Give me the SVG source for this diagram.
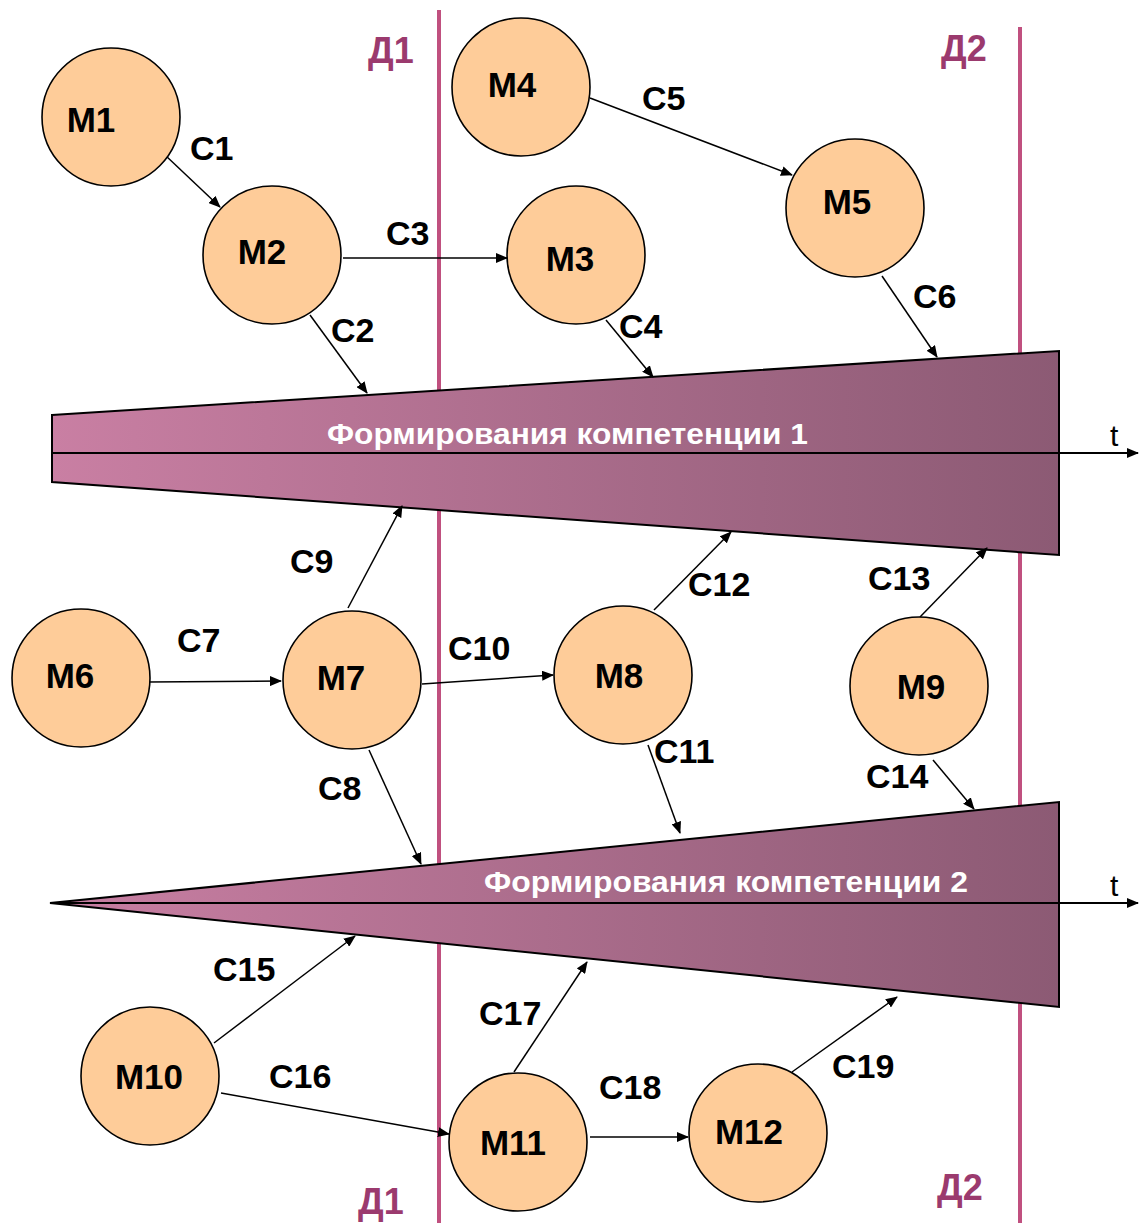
<svg xmlns="http://www.w3.org/2000/svg" width="1140" height="1223" viewBox="0 0 1140 1223">
<defs>
<linearGradient id="g" x1="0" y1="0" x2="1" y2="0">
<stop offset="0" stop-color="#c97fa3"/>
<stop offset="1" stop-color="#8c5a74"/>
</linearGradient>
<marker id="ah" markerWidth="12" markerHeight="10" refX="11" refY="5" orient="auto" markerUnits="userSpaceOnUse">
<path d="M0,0 L12,5 L0,10 Z" fill="#000"/>
</marker>
<style>
.node circle{fill:#fecc99;stroke:#000;stroke-width:1.6}
.node text{font-family:"Liberation Sans",Arial,sans-serif;font-weight:bold;font-size:35px;fill:#000;text-anchor:middle}
.lbl{font-family:"Liberation Sans",Arial,sans-serif;font-weight:bold;font-size:34px;fill:#000}
.d{font-family:"Liberation Sans",Arial,sans-serif;font-weight:bold;font-size:36px;fill:#9b3a6e}
.div{stroke:#c0507f;stroke-width:4}
.tri{fill:url(#g);stroke:#000;stroke-width:2}
.ttl{font-family:"Liberation Sans",Arial,sans-serif;font-weight:bold;font-size:29px;fill:#fff}
.t{font-family:"Liberation Sans",Arial,sans-serif;font-size:30px;fill:#000}
#connectors line{stroke:#000;stroke-width:1.5;marker-end:url(#ah)}
</style>
</defs>
<rect width="1140" height="1223" fill="#fff"/>
<g id="dividers">
<line class="div" x1="439" y1="10" x2="439" y2="1223"/>
<line class="div" x1="1020" y1="27" x2="1020" y2="1223"/>
<text class="d" x="368" y="63">Д1</text>
<text class="d" x="941" y="61">Д2</text>
<text class="d" x="358" y="1214">Д1</text>
<text class="d" x="937" y="1200">Д2</text>
</g>
<g id="competence1">
<polygon class="tri" points="52,415 1059,351 1059,555 52,482"/>
<text class="ttl" x="327" y="444" textLength="481" lengthAdjust="spacingAndGlyphs">Формирования компетенции 1</text>
<line x1="52" y1="453" x2="1138" y2="453" stroke="#000" stroke-width="2" marker-end="url(#ah)"/>
<text class="t" x="1110" y="446">t</text>
</g>
<g id="competence2">
<polygon class="tri" points="50,903 1059,802 1059,1007"/>
<text class="ttl" x="484" y="892" textLength="484" lengthAdjust="spacingAndGlyphs">Формирования компетенции 2</text>
<line x1="50" y1="903" x2="1138" y2="903" stroke="#000" stroke-width="2" marker-end="url(#ah)"/>
<text class="t" x="1110" y="896">t</text>
</g>
<g id="connectors">
<line x1="165" y1="155" x2="220" y2="207"/>
<line x1="310" y1="315" x2="367" y2="393"/>
<line x1="343" y1="258" x2="507" y2="258"/>
<line x1="606" y1="320" x2="653" y2="377"/>
<line x1="590" y1="98" x2="792" y2="175"/>
<line x1="882" y1="276" x2="937" y2="357"/>
<line x1="148" y1="682" x2="281" y2="681"/>
<line x1="369" y1="750" x2="421" y2="864"/>
<line x1="348" y1="608" x2="402" y2="506"/>
<line x1="422" y1="684" x2="553" y2="675"/>
<line x1="648" y1="745" x2="680" y2="833"/>
<line x1="654" y1="610" x2="731" y2="532"/>
<line x1="920" y1="617" x2="987" y2="548"/>
<line x1="933" y1="760" x2="974" y2="809"/>
<line x1="214" y1="1043" x2="355" y2="936"/>
<line x1="221" y1="1093" x2="449" y2="1134"/>
<line x1="514" y1="1072" x2="587" y2="962"/>
<line x1="590" y1="1137" x2="688" y2="1137"/>
<line x1="792" y1="1072" x2="897" y2="997"/>
</g>
<g id="connector-labels">
<text class="lbl" x="190" y="160">С1</text>
<text class="lbl" x="331" y="342">С2</text>
<text class="lbl" x="386" y="245">С3</text>
<text class="lbl" x="619" y="338">С4</text>
<text class="lbl" x="642" y="110">С5</text>
<text class="lbl" x="913" y="308">С6</text>
<text class="lbl" x="177" y="652">С7</text>
<text class="lbl" x="318" y="800">С8</text>
<text class="lbl" x="290" y="573">С9</text>
<text class="lbl" x="448" y="660">С10</text>
<text class="lbl" x="654" y="763">С11</text>
<text class="lbl" x="688" y="596">С12</text>
<text class="lbl" x="868" y="590">С13</text>
<text class="lbl" x="866" y="788">С14</text>
<text class="lbl" x="213" y="981">С15</text>
<text class="lbl" x="269" y="1088">С16</text>
<text class="lbl" x="479" y="1025">С17</text>
<text class="lbl" x="599" y="1099">С18</text>
<text class="lbl" x="832" y="1078">С19</text>
</g>
<g id="M1" class="node"><circle cx="111" cy="117" r="69"/><text x="91" y="132">М1</text></g>
<g id="M2" class="node"><circle cx="272" cy="255" r="69"/><text x="262" y="264">М2</text></g>
<g id="M3" class="node"><circle cx="576" cy="255" r="69"/><text x="570" y="271">М3</text></g>
<g id="M4" class="node"><circle cx="521" cy="87" r="69"/><text x="512" y="97">М4</text></g>
<g id="M5" class="node"><circle cx="855" cy="208" r="69"/><text x="847" y="214">М5</text></g>
<g id="M6" class="node"><circle cx="81" cy="678" r="69"/><text x="70" y="688">М6</text></g>
<g id="M7" class="node"><circle cx="352" cy="680" r="69"/><text x="341" y="690">М7</text></g>
<g id="M8" class="node"><circle cx="623" cy="675" r="69"/><text x="619" y="688">М8</text></g>
<g id="M9" class="node"><circle cx="919" cy="686" r="69"/><text x="921" y="699">М9</text></g>
<g id="M10" class="node"><circle cx="150" cy="1076" r="69"/><text x="149" y="1089">М10</text></g>
<g id="M11" class="node"><circle cx="518" cy="1142" r="69"/><text x="513" y="1155">М11</text></g>
<g id="M12" class="node"><circle cx="758" cy="1133" r="69"/><text x="749" y="1144">М12</text></g>
</svg>
